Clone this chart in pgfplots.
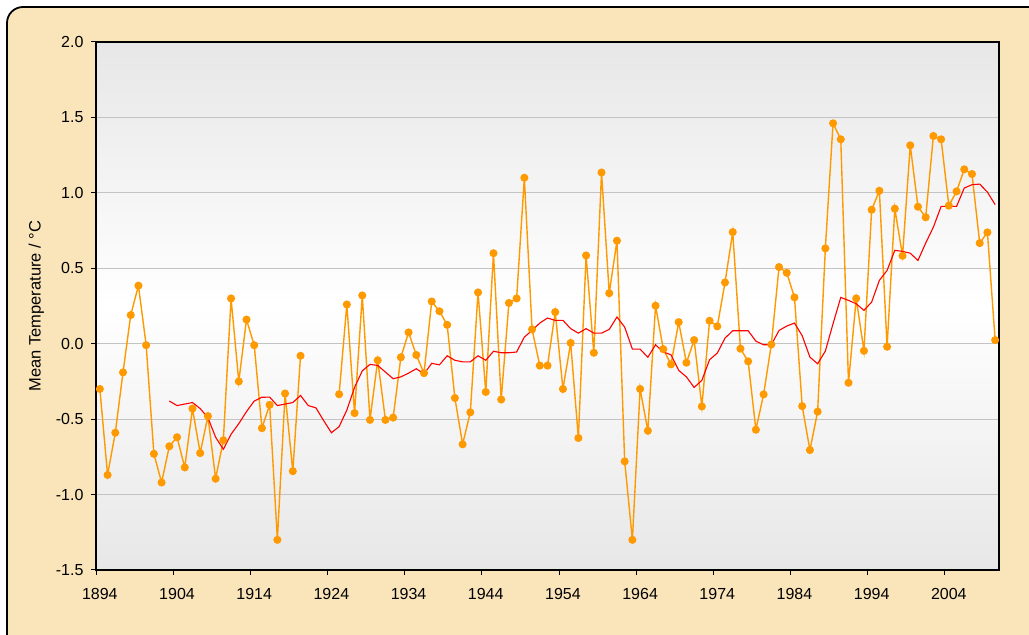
\documentclass[border=0pt]{standalone}
\usepackage{pgfplots}
\usepackage{pgfplotstable}
\pgfplotsset{compat=1.18}
\usepackage{fontspec}
\setmainfont{Liberation Sans}
\definecolor{parch}{RGB}{250,229,186}
\definecolor{xorange}{RGB}{255,153,0}
\definecolor{gridgray}{RGB}{195,195,195}
\definecolor{plotgray}{RGB}{231,231,231}

\pgfplotstableread{
year val
1894 -0.30
1895 -0.87
1896 -0.59
1897 -0.19
1898 0.19
1899 0.385
1900 -0.01
1901 -0.73
1902 -0.92
1903 -0.68
1904 -0.62
1905 -0.82
1906 -0.43
1907 -0.725
1908 -0.48
1909 -0.895
1910 -0.64
1911 0.30
1912 -0.25
1913 0.16
1914 -0.01
1915 -0.56
1916 -0.405
1917 -1.30
1918 -0.33
1919 -0.845
1920 -0.08
1921 nan
1922 nan
1923 nan
1924 nan
1925 -0.335
1926 0.26
1927 -0.46
1928 0.32
1929 -0.505
1930 -0.11
1931 -0.505
1932 -0.49
1933 -0.09
1934 0.075
1935 -0.075
1936 -0.195
1937 0.28
1938 0.215
1939 0.125
1940 -0.36
1941 -0.667
1942 -0.455
1943 0.34
1944 -0.32
1945 0.60
1946 -0.37
1947 0.27
1948 0.30
1949 1.10
1950 0.095
1951 -0.145
1952 -0.145
1953 0.21
1954 -0.30
1955 0.005
1956 -0.625
1957 0.585
1958 -0.06
1959 1.135
1960 0.335
1961 0.683
1962 -0.78
1963 -1.30
1964 -0.30
1965 -0.577
1966 0.252
1967 -0.036
1968 -0.137
1969 0.143
1970 -0.126
1971 0.024
1972 -0.416
1973 0.152
1974 0.115
1975 0.406
1976 0.74
1977 -0.033
1978 -0.117
1979 -0.57
1980 -0.336
1981 -0.005
1982 0.508
1983 0.47
1984 0.307
1985 -0.414
1986 -0.705
1987 -0.45
1988 0.632
1989 1.461
1990 1.355
1991 -0.259
1992 0.30
1993 -0.047
1994 0.888
1995 1.014
1996 -0.02
1997 0.895
1998 0.583
1999 1.315
2000 0.908
2001 0.838
2002 1.377
2003 1.355
2004 0.915
2005 1.01
2006 1.156
2007 1.125
2008 0.667
2009 0.738
2010 0.024
}\annual

\pgfplotstableread{
year val
1903 -0.38
1904 -0.41
1905 -0.40
1906 -0.39
1907 -0.43
1908 -0.49
1909 -0.62
1910 -0.70
1911 -0.60
1912 -0.53
1913 -0.45
1914 -0.38
1915 -0.355
1916 -0.354
1917 -0.41
1918 -0.40
1919 -0.39
1920 -0.343
1921 -0.41
1922 -0.425
1923 -0.51
1924 -0.59
1925 -0.55
1926 -0.44
1927 -0.29
1928 -0.18
1929 -0.137
1930 -0.144
1931 -0.188
1932 -0.232
1933 -0.22
1934 -0.195
1935 -0.166
1936 -0.20
1937 -0.13
1938 -0.14
1939 -0.08
1940 -0.11
1941 -0.12
1942 -0.12
1943 -0.08
1944 -0.11
1945 -0.05
1946 -0.06
1947 -0.06
1948 -0.055
1949 0.044
1950 0.088
1951 0.137
1952 0.17
1953 0.155
1954 0.155
1955 0.10
1956 0.07
1957 0.10
1958 0.07
1959 0.07
1960 0.095
1961 0.177
1962 0.11
1963 -0.036
1964 -0.036
1965 -0.09
1966 -0.007
1967 -0.055
1968 -0.073
1969 -0.177
1970 -0.22
1971 -0.29
1972 -0.243
1973 -0.106
1974 -0.062
1975 0.037
1976 0.086
1977 0.086
1978 0.086
1979 0.017
1980 -0.007
1981 -0.007
1982 0.088
1983 0.117
1984 0.137
1985 0.053
1986 -0.089
1987 -0.133
1988 -0.049
1989 0.133
1990 0.307
1991 0.287
1992 0.265
1993 0.221
1994 0.276
1995 0.42
1996 0.486
1997 0.619
1998 0.612
1999 0.60
2000 0.552
2001 0.667
2002 0.773
2003 0.91
2004 0.91
2005 0.91
2006 1.032
2007 1.054
2008 1.058
2009 1.005
2010 0.922
}\movavg

\begin{document}
\begin{tikzpicture}[x=1pt,y=1pt]
\path[use as bounding box] (0,0) rectangle (1029,635);
\begin{scope}
\clip (0,0) rectangle (1029,635);
\draw[line width=1.8pt, fill=parch, rounded corners=16pt] (7,-40) rectangle (1070,628);
\end{scope}
\begin{axis}[
  at={(96pt,65pt)}, anchor=south west,
  scale only axis, width=903pt, height=528pt,
  xmin=1893.5, xmax=2010.5, ymin=-1.5, ymax=2,
  axis background/.style={shade, top color=plotgray, bottom color=plotgray, middle color=white},
  axis line style={black, line width=1.4pt},
  tick align=outside, major tick length=5pt,
  tick style={black, line width=1pt},
  xtick={1893.5,1903.5,...,2003.5},
  xticklabels={1894,1904,1914,1924,1934,1944,1954,1964,1974,1984,1994,2004},
  xticklabel style={xshift=3.85pt, yshift=-9.5pt},
  ytick={-1.5,-1,...,2},
  yticklabel style={xshift=-4pt, /pgf/number format/.cd, fixed, fixed zerofill, precision=1},
  /pgf/number format/assume math mode=true,
  ticklabel style={font=\fontsize{16}{19}\selectfont},
  ymajorgrids, grid style={gridgray, line width=0.9pt},
  xtick pos=bottom, ytick pos=left,
  ylabel={Mean Temperature / °C},
  ylabel style={font=\fontsize{16.5}{19}\selectfont, at={(axis description cs:-0.066,0.5)}, anchor=center},
  unbounded coords=jump,
]
\addplot[xorange, line width=1.4pt, mark=*, mark size=3.3pt, mark options={fill=xorange, draw=xorange}] table[x=year, y=val] {\annual};
\addplot[red, line width=1.1pt] table[x=year, y=val] {\movavg};
\end{axis}
\end{tikzpicture}
\end{document}
